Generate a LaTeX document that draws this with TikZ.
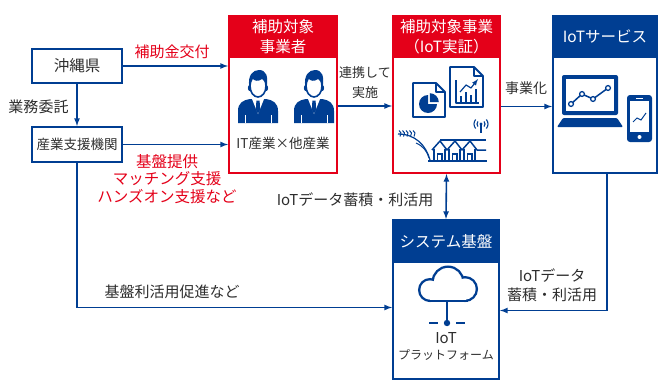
\documentclass[tikz,border=0pt]{standalone}
\usepackage{fontspec}
\setmainfont{Noto Sans CJK JP}
\usepackage{tikz}
\usetikzlibrary{positioning,calc}

\definecolor{navy}{RGB}{0,62,146}
\definecolor{hojo}{RGB}{228,0,25}
\definecolor{sumi}{RGB}{45,45,45}

\tikzset{
  smallbox/.style={draw=navy, line width=2pt, minimum width=90pt, minimum height=34pt,
    text=sumi, inner sep=0pt},
  bigbox/.style={draw=#1, line width=2pt, minimum height=157pt, inner sep=0pt},
  headbox/.style={fill=#1, draw=#1, line width=2pt, text=white, minimum height=41pt,
    align=center, inner sep=0pt, font=\fontsize{15.5}{20.5}\selectfont},
  arr/.style={draw=navy, line width=1.6pt, ->, >=latex},
  lbl/.style={text=sumi, align=center, inner sep=0pt, font=\fontsize{15}{19}\selectfont},
  redlbl/.style={lbl, text=hojo},
  pics/worker/.style={code={
    % body, collar and tie
    \fill[navy] (-20,37) -- (-20,25) .. controls (-20,17) and (-15,14) .. (-8,13)
      -- (8,13) .. controls (15,14) and (20,17) .. (20,25) -- (20,37) -- cycle;
    \fill[white] (-6,13) -- (0,28) -- (6,13) -- cycle;
    \fill[navy] (-1.6,14.5) -- (1.6,14.5) -- (2.2,24) -- (0,27.5) -- (-2.2,24) -- cycle;
    \draw[white, line width=0.8pt] (-13,29) -- (-13,37) (13,29) -- (13,37);
    % head
    \filldraw[fill=white, draw=navy, line width=1.6pt] (0,0) ellipse (8 and 11);
    \fill[navy] (-8.7,1) .. controls (-10.5,-11) and (-5,-16) .. (1,-16)
      .. controls (8,-16) and (10.5,-10) .. (8.7,1) .. controls (7.5,-4) and (6,-6) .. (4,-7)
      .. controls (0,-4) and (-4,-5) .. (-6,-8) .. controls (-7,-5) and (-8,-2) .. (-8.7,1) -- cycle;
    \fill[navy] (-8.5,2) ellipse (1.6 and 3) (8.5,2) ellipse (1.6 and 3);
  }}
}

\begin{document}
\begin{tikzpicture}[x=1pt, y=-1pt]
\useasboundingbox (0,0) rectangle (668,383);

% left side: prefecture and support agency
\node[smallbox, font=\fontsize{15.5}{18}\selectfont] (pref) at (77,66) {沖縄県};
\node[smallbox, minimum height=35pt, font=\fontsize{13.5}{16}\selectfont] (agency) at (77,144.5) {産業支援機関};

% the four large boxes with header bands
\node[bigbox=hojo, minimum width=108pt] (firms) at (283,94.5) {};
\node[headbox=hojo, minimum width=108pt, anchor=north] (firmshead) at (firms.north) {補助対象\\事業者};

\node[bigbox=hojo, minimum width=107pt] (proof) at (446.5,94.5) {};
\node[headbox=hojo, minimum width=107pt, anchor=north] (proofhead) at (proof.north) {補助対象事業\\（IoT実証）};

\node[bigbox=navy, minimum width=104pt] (service) at (605,94.5) {};
\node[headbox=navy, minimum width=104pt, anchor=north] (servicehead) at (service.north) {IoTサービス};

\node[bigbox=navy, minimum width=106pt, minimum height=159pt] (platform) at (446,299.5) {};
\node[headbox=navy, minimum width=106pt, minimum height=42pt, anchor=north] (platformhead) at (platform.north) {システム基盤};

% connectors
\draw[arr] (pref) -- (pref -| firms.west);
\draw[arr] (agency) -- (agency -| firms.west);
\draw[arr] (pref) -- (agency);
\draw[arr] ($(firms.east)+(0,11.5)$) -- ($(proof.west)+(0,11.5)$);
\draw[arr] ($(proof.east)+(0,12)$) -- ($(service.west)+(0,12)$);
\draw[arr, <->] (proof.south) -- (platform.north);
\draw[arr] (agency.south) |- ($(platform.west)+(0,8)$);
\draw[arr] ([xshift=2pt]service.south) |- ($(platform.east)+(0,11)$);

% labels
\node[redlbl] (grant) at (172,52) {補助金交付};
\node[lbl] (consign) at (38.5,107) {業務委託};
\node[redlbl, font=\fontsize{15.5}{17.5}\selectfont] (support) at (167,179) {基盤提供\\マッチング支援\\ハンズオン支援など};
\node[lbl, font=\fontsize{13}{20}\selectfont] (collab) at (365,83) {連携して\\実施};
\node[lbl, font=\fontsize{14}{17}\selectfont] (biz) at (526,88) {事業化};
\node[lbl] (datause) at (355,200) {IoTデータ蓄積・利活用};
\node[lbl] (promote) at (172,292) {基盤利活用促進など};
\node[lbl] (datause2) at (552,285) {IoTデータ\\蓄積・利活用};

% people
\pic at (258,86) {worker};
\pic at (314,86) {worker};
\node[lbl, font=\fontsize{13.5}{16}\selectfont] (pair) at (283,143) {IT産業×他産業};

% documents, antenna, houses and rice
\begin{scope}[navy, line width=1.8pt, line join=round]
\draw (413,83) -- (436,83) -- (445,92) -- (445,117) -- (413,117) -- cycle;
\draw (436,83) -- (436,92) -- (445,92);
\fill (428,104) -- ++(9,0) arc[start angle=0, end angle=270, radius=9] -- cycle;
\fill (429.8,102.2) -- ++(0,-9) arc[start angle=-90, end angle=0, radius=9] -- cycle;
\draw (450,67) -- (474,67) -- (483,76) -- (483,107) -- (450,107) -- cycle;
\draw (474,67) -- (474,76) -- (483,76);
\draw[line width=1.2pt] (456,80) -- (456,103) -- (479,103);
\draw[line width=2.4pt] (461,103) -- (461,96) (466,103) -- (466,92) (471,103) -- (471,95) (476,103) -- (476,89);
\draw[line width=1.2pt, ->, >=latex] (460,92) -- (466,85) -- (471,88) -- (478,79);
\fill (481,124) circle (1.6);
\draw[line width=1.1pt] (481,124) -- (481,133);
\foreach \r in {4,7} {
  \draw[line width=1.1pt] (481,124) ++(140:\r) arc[start angle=140, end angle=220, radius=\r];
  \draw[line width=1.1pt] (481,124) ++(-40:\r) arc[start angle=-40, end angle=40, radius=\r];
}
% row of houses
\draw[line width=1.5pt] (432,150) -- (440,141) -- (447,150) -- (455,141) -- (462,150) -- (470,141) -- (477,150) -- (486,150);
\draw[line width=1.5pt] (440,140) -- (486,140);
\draw[line width=1.5pt] (434,149) -- (434,160) (445,149) -- (445,160) (449,149) -- (449,160)
  (460,149) -- (460,160) (464,149) -- (464,160) (475,149) -- (475,160);
\draw[line width=1.5pt] (428,161) -- (487,161);
\foreach \x in {439.5,454.5,469.5} \fill (\x-3,153) rectangle (\x+3,161);
\foreach \x in {439.5,454.5,469.5} \fill[white] (\x-1.5,155) rectangle (\x+1.5,160);
% rice ear and leaf
\draw[line width=1.2pt] (398,134) .. controls (415,134) and (426,145) .. (430,160);
\draw[line width=1pt] (416,143) .. controls (423,146) and (427,151) .. (429,158);
\foreach \x in {399,402.5,406,409.5,413}
  \draw[line width=1pt] (\x,130.5) .. controls (\x+2.5,131.5) and (\x+2.5,134) .. (\x+1,136.5);
\end{scope}

% laptop and phone
\fill[navy, rounded corners=2pt] (562,75) rectangle (618,115);
\fill[white] (566,79) rectangle (614,111);
\draw[navy, line width=1.5pt] (571,104) -- (582,94) -- (593,99) -- (608,88);
\foreach \x/\y in {571/104,582/94,593/99,608/88}
  \filldraw[fill=white, draw=navy, line width=1.3pt] (\x,\y) circle (2.4);
\fill[navy, rounded corners=1pt] (563,118) -- (617,118) -- (623,127) -- (557,127) -- cycle;
\fill[navy, rounded corners=3pt] (627,95) rectangle (652,142);
\fill[white] (630,101) rectangle (649,132);
\fill[white] (639.5,137) circle (2);
\draw[white, line width=1pt] (636,98) -- (643,98);
\draw[navy, line width=1pt] (633,122) -- (637,118) -- (641,120) -- (646,113);

% cloud on the platform: thick outline first, then white inside
\foreach \c/\w in {navy/5pt, white/0.1pt} {
  \filldraw[fill=\c, draw=\c, line width=\w] (430,290) circle (9.5);
  \filldraw[fill=\c, draw=\c, line width=\w] (448,282) circle (14);
  \filldraw[fill=\c, draw=\c, line width=\w] (465,289) circle (10.5);
  \filldraw[fill=\c, draw=\c, line width=\w] (430,282) rectangle (465,299.5);
}
\draw[navy, line width=2pt] (447,302) -- (447,323);
\fill[navy] (447,323) circle (3.2);
\draw[navy, line width=2pt] (429,323) -- (438,323) (456,323) -- (465,323);
\node[lbl] (iot) at (446,338) {IoT};
\node[lbl, font=\fontsize{12}{14}\selectfont] (platname) at (446,355) {プラットフォーム};
\end{tikzpicture}
\end{document}
